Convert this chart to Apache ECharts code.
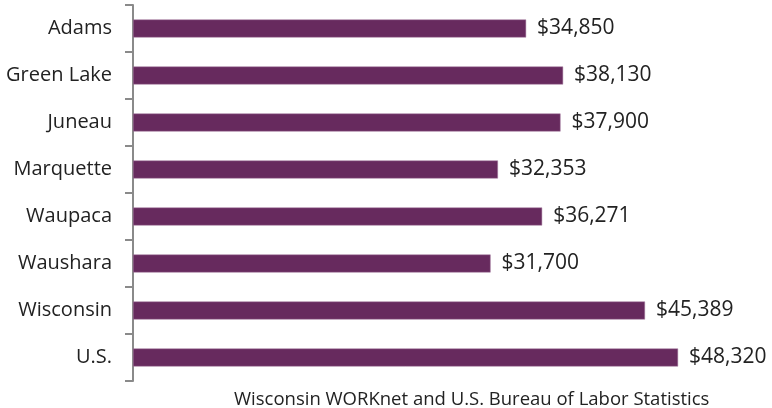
<!DOCTYPE html>
<html>
<head>
<meta charset="utf-8">
<script src="https://cdn.jsdelivr.net/npm/echarts@6/dist/echarts.min.js"></script>
<style>
  html, body { margin: 0; padding: 0; background: #fff; }
  #main { width: 772px; height: 408px; }
</style>
</head>
<body>
<div id="main"></div>
<script>
var places = ['Adams', 'Green Lake', 'Juneau', 'Marquette', 'Waupaca', 'Waushara', 'Wisconsin', 'U.S.'];
var wages = [34850, 38130, 37900, 32353, 36271, 31700, 45389, 48320];
var sourceText = 'Wisconsin WORKnet and U.S. Bureau of Labor Statistics';

var fontName = '"Open Sans", "Noto Sans", sans-serif';

var myChart = echarts.init(document.getElementById('main'));
myChart.setOption({
    animation: false,
    title: {
        text: sourceText,
        left: 229,
        top: 385,
        textStyle: {
            fontFamily: fontName,
            fontWeight: 'normal',
            fontSize: 18.5,
            color: '#222'
        }
    },
    grid: {
        left: 133,
        right: 75,
        top: 5,
        bottom: 27
    },
    xAxis: {
        type: 'value',
        min: 0,
        max: 50000,
        show: false
    },
    yAxis: {
        type: 'category',
        inverse: true,
        data: places,
        axisLine: { show: true, lineStyle: { color: '#8a8a8a', width: 2 } },
        axisTick: { show: true, length: 8, lineStyle: { color: '#8a8a8a', width: 2 } },
        axisLabel: {
            margin: 21,
            fontFamily: fontName,
            fontSize: 20,
            color: '#222'
        }
    },
    series: [{
        type: 'bar',
        data: wages,
        barWidth: 18,
        itemStyle: {
            color: '#672a5e',
            borderColor: '#a57a9e',
            borderWidth: 0.5
        },
        label: {
            show: true,
            position: 'right',
            distance: 11,
            fontFamily: fontName,
            fontSize: 21,
            color: '#222',
            formatter: function (p) {
                return '$' + p.value.toLocaleString('en-US');
            }
        }
    }]
});
</script>
</body>
</html>
